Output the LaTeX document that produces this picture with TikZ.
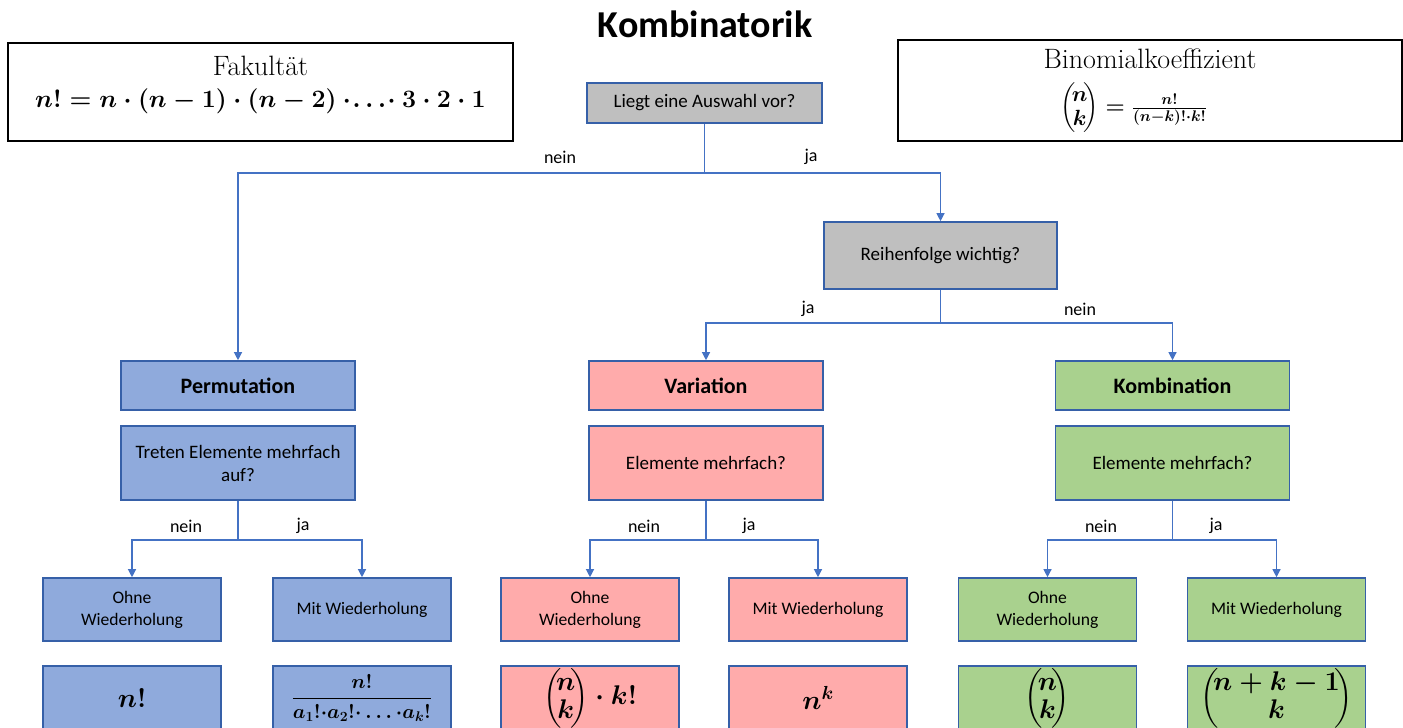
\RequirePackage{fix-cm}
\documentclass[tikz,border=0pt]{standalone}
\usepackage{amsmath}
\usepackage{fontspec}
\newfontfamily\calibrifont{Carlito}
\usetikzlibrary{arrows.meta}
\definecolor{boxline}{HTML}{3660A8}
\definecolor{connc}{HTML}{4472C4}
\definecolor{grayfill}{HTML}{BFBFBF}
\definecolor{bluefill}{HTML}{8FAADC}
\definecolor{pinkfill}{HTML}{FFABAB}
\definecolor{greenfill}{HTML}{A9D18E}
\newcommand{\bnm}[3]{\left(\!\begin{array}{@{}c@{}}#1\\[#3]#2\end{array}\!\right)}
\tikzset{
  x=1pt, y=-1pt,
  box/.style={draw=boxline, line width=1.6pt, inner sep=0pt, align=center,
    font=\calibrifont\fontsize{19}{23}\selectfont},
  headbox/.style={box, minimum width=234pt, minimum height=49pt,
    font=\calibrifont\bfseries\fontsize{22}{26}\selectfont},
  qbox/.style={box, minimum width=234pt, minimum height=74pt},
  leafbox/.style={box, minimum width=178pt, minimum height=63pt,
    font=\calibrifont\fontsize{17.6}{22}\selectfont},
  formbox/.style={box, minimum width=178pt, minimum height=64pt,
    font=\fontsize{27}{32}\selectfont\boldmath},
  infobox/.style={draw=black, line width=1.8pt, inner sep=0pt, align=center},
  conn/.style={draw=connc, line width=1.2pt},
  arr/.style={conn, -{Triangle[width=8pt,length=8pt]}},
  lbl/.style={font=\calibrifont\fontsize{18}{22}\selectfont, inner sep=0pt},
}
\begin{document}
\begin{tikzpicture}
\useasboundingbox (0,0) rectangle (1403,728);
\clip (0,0) rectangle (1403,728);

% title
\node[inner sep=0pt, font=\calibrifont\bfseries\fontsize{38}{44}\selectfont] (title) at (705,24) {Kombinatorik};

% info boxes
\node[infobox, minimum width=505pt, minimum height=98pt] (fak) at (260.5,92) {};
\node[inner sep=0pt, font=\fontsize{28}{32}\selectfont] (faklbl) at (260.5,66) {Fakultät};
\node[inner sep=0pt, font=\fontsize{25}{30}\selectfont\boldmath] (fakf) at (260.5,101)
  {$n! = n\cdot(n-1)\cdot(n-2)\cdot\!\ldots\!\cdot 3\cdot 2\cdot 1$};

\node[infobox, minimum width=504pt, minimum height=101pt] (bin) at (1150,90.5) {};
\node[inner sep=0pt, font=\fontsize{28}{32}\selectfont] (binlbl) at (1150,59) {Binomialkoeffizient};
\node[inner sep=0pt, font=\fontsize{22}{26}\selectfont\boldmath] (binf) at (1134,108)
  {$\bnm{n}{k}{-2pt} = \tfrac{n!}{(n-k)!{\cdot}k!}$};

% decision boxes
\node[box, fill=grayfill, minimum width=235pt, minimum height=40pt] (liegt) at (704.5,103) {Liegt eine Auswahl vor?};
\node[box, fill=grayfill, minimum width=233pt, minimum height=67pt] (reihe) at (940.5,255.5) {Reihenfolge wichtig?};

% heads
\node[headbox, fill=bluefill] (perm) at (238,385.5) {Permutation};
\node[headbox, fill=pinkfill] (vari) at (706,385.5) {Variation};
\node[headbox, fill=greenfill] (komb) at (1172.5,385.5) {Kombination};

% questions
\node[qbox, fill=bluefill] (qperm) at (238,463) {Treten Elemente mehrfach\\auf?};
\node[qbox, fill=pinkfill] (qvari) at (706,463) {Elemente mehrfach?};
\node[qbox, fill=greenfill] (qkomb) at (1172.5,463) {Elemente mehrfach?};

% leaves
\node[leafbox, fill=bluefill] (pO) at (132,609.5) {Ohne\\Wiederholung};
\node[leafbox, fill=bluefill] (pM) at (362,609.5) {Mit Wiederholung};
\node[leafbox, fill=pinkfill] (vO) at (590,609.5) {Ohne\\Wiederholung};
\node[leafbox, fill=pinkfill] (vM) at (818,609.5) {Mit Wiederholung};
\node[leafbox, fill=greenfill] (kO) at (1047.5,609.5) {Ohne\\Wiederholung};
\node[leafbox, fill=greenfill] (kM) at (1276.5,609.5) {Mit Wiederholung};

% formulas
\node[formbox, fill=bluefill] (fpO) at (132,698) {$n!$};
\node[formbox, fill=bluefill, font=\fontsize{20}{24}\selectfont\boldmath] (fpM) at (362,698)
  {$\dfrac{n!}{a_1!{\cdot}a_2!{\cdot}\ldots{\cdot}a_k!}$};
\node[formbox, fill=pinkfill] (fvO) at (590,698) {$\bnm{n}{k}{-4pt}\cdot k!$};
\node[formbox, fill=pinkfill] (fvM) at (818,698) {$n^k$};
\node[formbox, fill=greenfill] (fkO) at (1047.5,698) {$\bnm{n}{k}{-4pt}$};
\node[formbox, fill=greenfill] (fkM) at (1276.5,698) {$\bnm{n+k-1}{k}{-4pt}$};

% connectors
\coordinate (j1) at (704.5,173);
\draw[conn] (liegt.south) -- (j1);
\draw[arr] (j1) -| (perm.north);
\draw[arr] (j1) -| (reihe.north);
\node[lbl] (l1) at (560,157) {nein};
\node[lbl] (l2) at (811,157) {ja};

\coordinate (j2) at (940.5,323);
\draw[conn] (reihe.south) -- (j2);
\draw[arr] (j2) -| (vari.north);
\draw[arr] (j2) -| (komb.north);
\node[lbl] (l3) at (808,309) {ja};
\node[lbl] (l4) at (1080,309) {nein};

\coordinate (j3) at (238,540);
\draw[conn] (qperm.south) -- (j3);
\draw[arr] (j3) -| (pO.north);
\draw[arr] (j3) -| (pM.north);
\node[lbl] (l5) at (186,526) {nein};
\node[lbl] (l6) at (303,526) {ja};

\coordinate (j4) at (706,540);
\draw[conn] (qvari.south) -- (j4);
\draw[arr] (j4) -| (vO.north);
\draw[arr] (j4) -| (vM.north);
\node[lbl] (l7) at (644,526) {nein};
\node[lbl] (l8) at (749,526) {ja};

\coordinate (j5) at (1172.5,540);
\draw[conn] (qkomb.south) -- (j5);
\draw[arr] (j5) -| (kO.north);
\draw[arr] (j5) -| (kM.north);
\node[lbl] (l9) at (1101,526) {nein};
\node[lbl] (l10) at (1216,526) {ja};
\end{tikzpicture}
\end{document}
